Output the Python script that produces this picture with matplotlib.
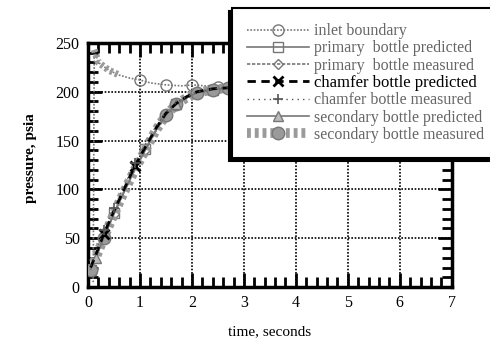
import matplotlib
matplotlib.use("Agg")
import matplotlib.pyplot as plt
from matplotlib.ticker import MultipleLocator

# pressure histories, psia vs seconds
t_inlet = [0.1, 0.12, 0.2, 0.4, 0.6, 0.8, 1.0, 1.2, 1.5, 1.8, 2.0, 2.5, 3.0, 4.0, 5.0, 6.0, 7.0]
p_inlet = [5, 243, 230, 222, 217, 214, 212, 209, 207, 206, 207, 205, 204, 203, 203, 203, 203]

t_bottle = [0.05, 0.15, 0.3, 0.5, 0.7, 0.9, 1.1, 1.3, 1.5, 1.7, 1.9, 2.1, 2.4, 2.7, 3.0, 4.0, 5.0, 6.0, 7.0]
p_prim_pred = [18, 30, 50, 76, 99, 121, 141, 160, 176, 187, 194, 199, 202, 204, 205, 205, 205, 205, 205]
p_prim_meas = [19, 31, 51, 75, 98, 120, 140, 159, 175, 186, 193, 198, 202, 204, 205, 205, 205, 205, 205]
p_cham_pred = [20, 33, 54, 78, 101, 124, 143, 162, 178, 188, 195, 200, 203, 204, 205, 205, 205, 205, 205]
p_cham_meas = [22, 36, 58, 81, 104, 127, 146, 164, 179, 189, 195, 200, 203, 204, 205, 205, 205, 205, 205]
p_sec_pred = [18, 30, 50, 75, 98, 120, 140, 160, 176, 187, 194, 199, 202, 204, 205, 205, 205, 205, 205]
p_sec_meas = [18, 30, 50, 75, 98, 120, 140, 160, 176, 187, 194, 199, 202, 204, 205, 205, 205, 205, 205]

plt.rcParams['font.family'] = ['Liberation Serif', 'DejaVu Serif']

fig = plt.figure(figsize=(4.9, 3.43), dpi=100)
ax = fig.add_axes([0.1796, 0.163, 0.7424, 0.712])

ax.plot(t_inlet, p_inlet, color='#777777', lw=1.2, ls=(0, (1, 1)), marker='o', ms=8,
        mfc='none', mec='#777777', markevery=[6, 8, 10, 11], label='inlet boundary')
ax.plot(t_inlet[1:5], p_inlet[1:5], color='#999999', lw=5, ls=(0, (0.4, 0.4)), zorder=2)
ax.plot(t_bottle, p_prim_pred, color='#777777', lw=1.2, marker='s', ms=7, mfc='none',
        mec='#777777', markevery=3, label='primary  bottle predicted')
ax.plot(t_bottle, p_prim_meas, color='#777777', lw=1.2, ls=(0, (2, 1)), marker='D', ms=5,
        mfc='none', mec='#777777', markevery=3, label='primary  bottle measured')
ax.plot(t_bottle, p_sec_meas, color='#9a9a9a', lw=7, ls=(0, (0.4, 0.4)), marker='o', ms=9,
        mfc='#9a9a9a', mec='#777777', markevery=[0, 2, 8, 9, 11, 12, 13],
        label='secondary bottle measured', zorder=3)
ax.plot(t_bottle, p_sec_pred, color='#777777', lw=1.2, marker='^', ms=7, mfc='#bbbbbb',
        mec='#777777', markevery=[1, 9], label='secondary bottle predicted', zorder=4)
ax.plot(t_bottle, p_cham_pred, color='black', lw=2, ls=(0, (3, 2)), marker='x', ms=7,
        mew=2, markevery=[2, 5], label='chamfer bottle predicted', zorder=5)
ax.plot(t_bottle, p_cham_meas, color='#555555', lw=1, ls=(0, (1, 3)), marker='+', ms=7,
        mew=1.2, markevery=[2, 3, 5], label='chamfer bottle measured', zorder=5)

ax.set_xlim(0, 7)
ax.set_ylim(0, 250)
ax.xaxis.set_major_locator(MultipleLocator(1))
ax.xaxis.set_minor_locator(MultipleLocator(0.2))
ax.yaxis.set_major_locator(MultipleLocator(50))
ax.yaxis.set_minor_locator(MultipleLocator(10))
ax.tick_params(which='both', direction='in', top=True, right=True, labelsize=11.5,
               colors='black', pad=6)
ax.tick_params(which='major', length=10, width=2)
ax.tick_params(which='minor', length=7, width=2)
for s in ax.spines.values():
    s.set_linewidth(2.5)
ax.grid(True, which='major', color='black', ls=(0, (1, 1)), lw=1.2)

ax.set_xlabel('time, seconds', fontsize=11, labelpad=10)
ax.set_ylabel('pressure, psia', fontsize=11, fontweight='bold')
ax.yaxis.set_label_coords(-0.14, 0.53)

order = ['inlet boundary', 'primary  bottle predicted', 'primary  bottle measured',
         'chamfer bottle predicted', 'chamfer bottle measured',
         'secondary bottle predicted', 'secondary bottle measured']
h, l = ax.get_legend_handles_labels()
hd = dict(zip(l, h))
leg = fig.legend([hd[k] for k in order], order, loc='upper left',
                 bbox_to_anchor=(232 / 490, 1 - 8 / 343), fontsize=11.5,
                 frameon=True, fancybox=False,
                 shadow={'ox': -2, 'oy': -2, 'color': 'black', 'alpha': 1},
                 borderpad=0.95, handlelength=3.9, labelspacing=0.08, handletextpad=0.3,
                 borderaxespad=0)
leg.get_frame().set_edgecolor('black')
leg.get_frame().set_linewidth(1.5)
for txt in leg.get_texts():
    if txt.get_text() == 'chamfer bottle predicted':
        txt.set_color('black')
        txt.set_fontsize(12)
    else:
        txt.set_color('#666666')

fig.savefig('out.png', dpi=100)
